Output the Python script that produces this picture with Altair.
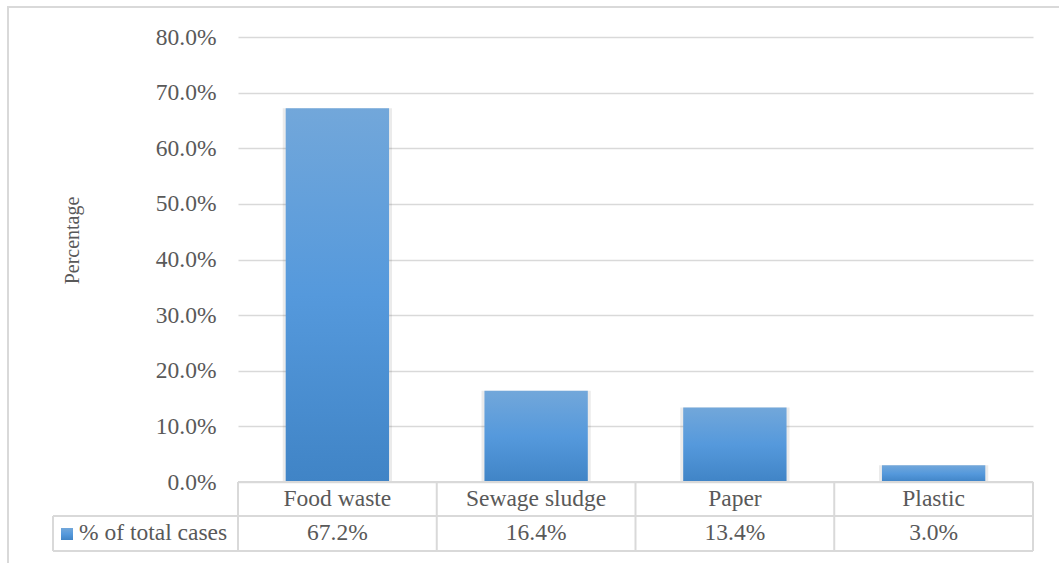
import altair as alt
import pandas as pd

# Share of total cases by waste type
categories = ["Food waste", "Sewage sludge", "Paper", "Plastic"]
shares = [67.2, 16.4, 13.4, 3.0]
series_name = "% of total cases"
y_ticks = [0, 0.1, 0.2, 0.3, 0.4, 0.5, 0.6, 0.7, 0.8]

df = pd.DataFrame({"cat": categories, "pct": [v / 100 for v in shares]})
one = pd.DataFrame({"k": [0]})

W, H = 795, 445
FONT = "Liberation Serif"
FS = 23.5
GREY_TXT = "#595959"
LINE = "#d9d9d9"

bar_fill = alt.Gradient(
    gradient="linear",
    stops=[
        alt.GradientStop(color="#72a7da", offset=0),
        alt.GradientStop(color="#5599dc", offset=0.5),
        alt.GradientStop(color="#4084c6", offset=1),
    ],
    x1=0, x2=0, y1=0, y2=1,
)

x_enc = alt.X("cat:N", sort=categories, axis=None,
              scale=alt.Scale(paddingInner=0, paddingOuter=0))
y_enc = alt.Y("pct:Q", title="Percentage",
              scale=alt.Scale(domain=[0, 0.8], nice=False),
              axis=alt.Axis(values=y_ticks, format=".1%", domain=False, ticks=False,
                            labelFont=FONT, labelFontSize=FS, labelColor=GREY_TXT,
                            labelPadding=22, gridColor=LINE, gridWidth=1.5,
                            titleFont=FONT, titleFontSize=20, titleFontWeight="normal",
                            titleColor=GREY_TXT, titleAngle=-90, titleAlign="center",
                            titleBaseline="middle", titleX=-166, titleY=203))

base = alt.Chart(df)

# outer frame of the chart area
frame = alt.Chart(one).mark_rect(fillOpacity=0, stroke=LINE, strokeWidth=2).encode(
    x=alt.value(-230), x2=alt.value(900), y=alt.value(-30), y2=alt.value(700))

shadow = base.mark_bar(width=alt.RelativeBandSize(0.55), color="#000000", opacity=0.08).encode(
    x=x_enc, y=y_enc)

bars = base.mark_bar(width=alt.RelativeBandSize(0.52), color=bar_fill).encode(
    x=x_enc, y=y_enc)

# data table below the plot
row1_y, row2_y, row3_y = H, H + 34, H + 69
hrules = alt.Chart(one).mark_rule(color=LINE, strokeWidth=2).encode(
    x=alt.value(0), x2=alt.value(W), y=alt.value(row1_y))
hrule2 = alt.Chart(one).mark_rule(color=LINE, strokeWidth=2).encode(
    x=alt.value(-185), x2=alt.value(W), y=alt.value(row2_y))
hrule3 = alt.Chart(one).mark_rule(color=LINE, strokeWidth=2).encode(
    x=alt.value(-185), x2=alt.value(W), y=alt.value(row3_y))
vrules = base.mark_rule(color=LINE, strokeWidth=2).encode(
    x=alt.X("cat:N", sort=categories, bandPosition=0, axis=None,
            scale=alt.Scale(paddingInner=0, paddingOuter=0)),
    y=alt.value(row1_y), y2=alt.value(row3_y))
vright = alt.Chart(one).mark_rule(color=LINE, strokeWidth=2).encode(
    x=alt.value(W), y=alt.value(row1_y), y2=alt.value(row3_y))
vleft = alt.Chart(one).mark_rule(color=LINE, strokeWidth=2).encode(
    x=alt.value(-185), y=alt.value(row2_y), y2=alt.value(row3_y))

text_style = dict(font=FONT, fontSize=FS, fontWeight="normal", color=GREY_TXT,
                  baseline="middle")
cat_text = base.mark_text(**text_style).encode(
    x=x_enc, y=alt.value(H + 17), text="cat:N")
val_text = base.mark_text(**text_style).encode(
    x=x_enc, y=alt.value(H + 51), text=alt.Text("pct:Q", format=".1%"))

key = alt.Chart(one).mark_rect(color=bar_fill).encode(
    x=alt.value(-177), x2=alt.value(-165), y=alt.value(H + 46), y2=alt.value(H + 58))
key_text = alt.Chart(pd.DataFrame({"s": [series_name]})).mark_text(
    align="left", **text_style).encode(
    x=alt.value(-159), y=alt.value(H + 51), text="s:N")

chart = alt.layer(
    frame, shadow, bars, hrules, hrule2, hrule3, vrules, vright, vleft,
    cat_text, val_text, key, key_text
).properties(
    width=W, height=H,
    autosize=alt.AutoSizeParams(type="none"),
    padding={"left": 238, "top": 37, "right": 26, "bottom": 81},
    background="white",
).configure_view(stroke=None)

chart.save("out.html", embed_options={"renderer": "svg", "actions": False})
